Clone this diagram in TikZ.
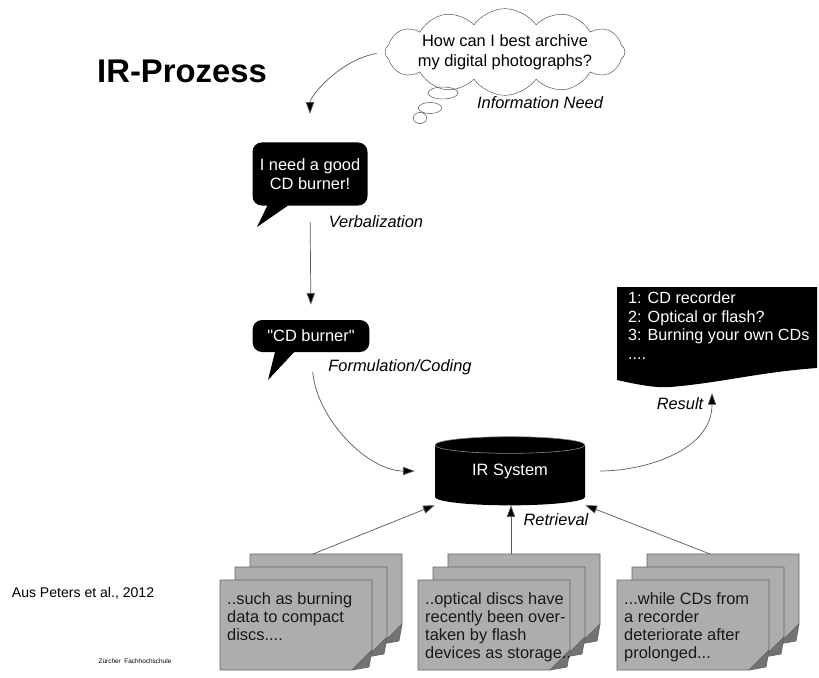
\documentclass[tikz,border=0pt]{standalone}
\usepackage{fontspec}
\setmainfont[Ligatures=TeXOff]{Liberation Sans}
\usetikzlibrary{shapes.symbols,shapes.geometric,arrows.meta,positioning}

\tikzset{
  txt/.style={font=\fontsize{14}{15.6}\selectfont},
  bubble/.style={txt, fill=black, text=white, rounded corners=8pt, align=center},
  lbl/.style={font=\fontsize{14}{16}\selectfont\itshape},
  flow/.style={draw=black!65, line width=0.6pt, -{Triangle[length=10pt,width=7pt,fill=black]}},
  sheet/.style={fill=black!32, draw=black!60, line width=0.6pt},
  fold/.style={fill=black!55, draw=black!60, line width=0.6pt, line join=round},
  doctext/.style={txt, align=left, anchor=north west, inner sep=0pt, text=black!90}
}

% one grey sheet, top-left corner at (#1,#2)
\newcommand\onesheet[2]{%
  \draw[sheet] (#1,#2) -- ++(152,0) -- ++(0,70) -- ++(-20,20) -- ++(-132,0) -- cycle;
  \draw[fold] (#1+152,#2+70) -- (#1+132,#2+90) -- (#1+149,#2+87) -- cycle;
}
% a stack of three sheets: name, x, y, text
\newcommand\paperstack[4]{%
  \onesheet{#2+30}{#3-26}
  \onesheet{#2+15}{#3-13}
  \onesheet{#2}{#3}
  \node[doctext] (#1) at (#2+7,#3+12) {#4};
  \coordinate (#1top) at (#2+93,#3-26);
}

\begin{document}
\begin{tikzpicture}[x=0.03cm, y=-0.03cm]
\useasboundingbox (0,0) rectangle (819,678);

\node[font=\fontsize{28}{32}\selectfont\bfseries] (title) at (182,71) {IR-Prozess};

% information need
\node[cloud, cloud puffs=12, cloud puff arc=110, aspect=2.8, draw=black!70, inner sep=0pt,
  minimum width=7.2cm, minimum height=2.6cm] (cloud) at (505,52) {};
\node[align=center, font=\fontsize{14}{17}\selectfont] (need) at (cloud.center)
  {How can I best archive\\my digital photographs?};
\node[ellipse, draw=black!70, minimum width=0.9cm, minimum height=0.36cm] (puff1) at (443,93) {};
\node[ellipse, draw=black!70, minimum width=0.7cm, minimum height=0.3cm] (puff2) at (430,108) {};
\node[ellipse, draw=black!70, minimum width=0.4cm, minimum height=0.18cm] (puff3) at (420,118) {};
\node[lbl] (infolbl) at (540,103) {Information Need};

% verbalization
\node[bubble, minimum width=3.45cm, minimum height=1.89cm] (verbal) at (310,174) {I need a good\\CD burner!};
\fill (270,200) -- (296,200) -- (257,227) -- cycle;
\node[lbl] (verballbl) at (376,222) {Verbalization};

% formulation
\node[bubble, minimum width=3.5cm, minimum height=0.96cm] (query) at (311,336) {"CD burner"};
\fill (276,348) -- (298,348) -- (268,380) -- cycle;
\node[lbl] (querylbl) at (400,367) {Formulation/Coding};

% IR system
\fill (435,445) -- (435,497) arc[start angle=180, end angle=360, x radius=2.25cm, y radius=0.25cm]
  -- (585,445) arc[start angle=0, end angle=180, x radius=2.25cm, y radius=0.25cm] -- cycle;
\draw[black!45, line width=0.5pt] (510,445) ellipse[x radius=2.25cm, y radius=0.25cm];
\node[txt, text=white, minimum width=4.5cm, minimum height=2.04cm] (irsys) at (510,471) {IR System};
\node[lbl] (retrlbl) at (556,520) {Retrieval};

% result
\fill (617,287) -- (817,287) -- (817,368) .. controls (760,372) and (720,383) .. (670,387)
  .. controls (655,388) and (640,385) .. (617,380) -- cycle;
\node[txt, text=white, align=left, anchor=north west, inner sep=0pt,
  font=\fontsize{13.8}{15.8}\selectfont] (result) at (628,292)
  {1: CD recorder\\2: Optical or flash?\\3: Burning your own CDs\\....};
\coordinate (resbot) at (712,393);
\node[lbl] (resultlbl) at (680,404) {Result};

% documents
\paperstack{doca}{220}{580}{..such as burning\\data to compact\\discs....}
\paperstack{docb}{418}{580}{..optical discs have\\recently been over-\\taken by flash\\devices as storage..}
\paperstack{docc}{617}{580}{...while CDs from\\a recorder\\deteriorate after\\prolonged...}

% flow
\draw[flow, shorten <=0.25cm, shorten >=0.85cm] (cloud.west) to[out=190, in=90] (verbal.north);
\draw[flow, shorten <=0.5cm, shorten >=0.45cm] (verbal.south) -- (query.north);
\draw[flow, shorten <=0.6cm, shorten >=0.6cm] (query.south) to[out=-85, in=180] (irsys.west);
\draw[flow, shorten <=0.45cm] (irsys.east) to[out=0, in=-90] (resbot);
\draw[flow] (docatop) -- (irsys.south west);
\draw[flow] (docbtop) -- (docbtop |- irsys.south);
\draw[flow] (docctop) -- (irsys.south east);

\node[font=\fontsize{12}{14}\selectfont] (source) at (83,593) {Aus Peters et al., 2012};
\node[font=\fontsize{5.5}{6}\selectfont] (school) at (135,661) {Zürcher\ \ Fachhochschule};
\end{tikzpicture}
\end{document}
